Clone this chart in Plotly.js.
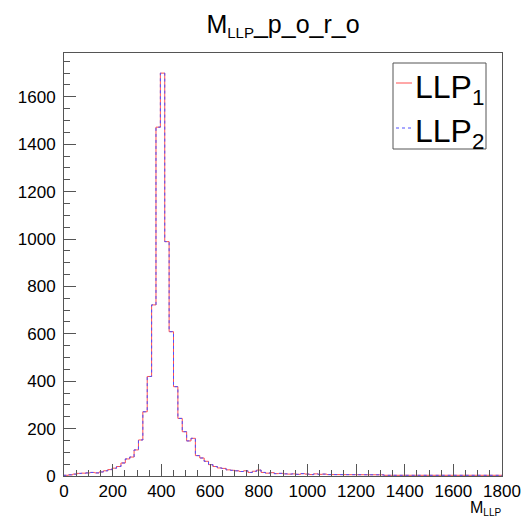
<!DOCTYPE html>
<html>
<head>
<meta charset="utf-8">
<script src="https://cdn.plot.ly/plotly-3.0.1.min.js"></script>
<style>html,body{margin:0;padding:0;background:#fff;}#chart{width:530px;height:518px;}</style>
</head>
<body>
<div id="chart"></div>
<script>
// Histogram binning (100 bins of width 18 over 0..1800)
const binLow = 0;
const binWidth = 18;

// Bin contents
const llp1Counts = [
  3, 5, 8, 11, 12, 13, 15, 13, 17, 22,
  27, 33, 40, 55, 72, 80, 110, 152, 271, 420,
  722, 1472, 1700, 989, 609, 377, 243, 187, 148, 159,
  86, 76, 62, 48, 40, 34, 32, 26, 24, 22,
  19, 22, 15, 20, 25, 15, 12, 14, 10, 11,
  9, 8, 9, 7, 10, 8, 6, 9, 7, 8,
  6, 6, 5, 7, 5, 6, 4, 6, 5, 4,
  5, 4, 5, 3, 4, 5, 3, 4, 3, 4,
  3, 3, 4, 2, 3, 3, 2, 4, 2, 3,
  3, 2, 3, 2, 3, 4, 2, 3, 2, 3
];
const llp2Counts = [
  3, 5, 8, 11, 12, 13, 15, 13, 17, 22,
  27, 33, 40, 55, 72, 80, 110, 152, 271, 420,
  722, 1472, 1700, 989, 609, 377, 243, 187, 148, 159,
  86, 76, 62, 48, 40, 34, 32, 26, 24, 22,
  19, 22, 15, 20, 25, 15, 12, 14, 10, 11,
  9, 8, 9, 7, 10, 8, 6, 9, 7, 8,
  6, 6, 5, 7, 5, 6, 4, 6, 5, 4,
  5, 4, 5, 3, 4, 5, 3, 4, 3, 4,
  3, 3, 4, 2, 3, 3, 2, 4, 2, 3,
  3, 2, 3, 2, 3, 4, 2, 3, 2, 3
];
const seriesNames = ['LLP<sub>1</sub>', 'LLP<sub>2</sub>'];
const seriesColors = ['#ff5050', '#5050ff'];
const chartTitle = 'M<sub><span style="font-size:15px">LLP</span></sub>_p_o_r_o';
const xTitle = 'M<sub><span style="font-size:10px">LLP</span></sub>';

// Step outline from bin edges
function stepXY(counts) {
  const xs = [binLow], ys = [0];
  for (let i = 0; i < counts.length; i++) {
    const lo = binLow + i * binWidth;
    xs.push(lo, lo + binWidth);
    ys.push(counts[i], counts[i]);
  }
  xs.push(binLow + counts.length * binWidth);
  ys.push(0);
  return {x: xs, y: ys};
}

const s1 = stepXY(llp1Counts);
const s2 = stepXY(llp2Counts);
const FONT = 'Liberation Sans, Arial, Helvetica, sans-serif';

const traces = [
  {x: s1.x, y: s1.y, type: 'scatter', mode: 'lines', name: seriesNames[0], showlegend: false,
   line: {color: seriesColors[0], width: 1}},
  {x: s2.x, y: s2.y, type: 'scatter', mode: 'lines', name: seriesNames[1], showlegend: false,
   line: {color: seriesColors[1], width: 1, dash: 'dot'}}
];

const axisCommon = {
  showline: true, linecolor: '#555', linewidth: 1, mirror: true,
  showgrid: false, zeroline: false,
  ticks: 'inside', ticklen: 12, tickcolor: '#555', tickwidth: 1,
  tickfont: {family: FONT, size: 17, color: '#000'},
  minor: {ticks: 'inside', ticklen: 6, tickcolor: '#555', tickwidth: 1, dtick: 50, showgrid: false}
};

// pixel -> paper helpers (plot area 64..502 x 53..476)
const px = v => (v - 64) / 438;
const py = v => (476 - v) / 423;

const layout = {
  width: 530, height: 518,
  margin: {l: 64, r: 28, t: 53, b: 42, pad: 0},
  paper_bgcolor: '#fff', plot_bgcolor: '#fff',
  title: {text: chartTitle, font: {family: FONT, size: 25, color: '#000'},
          x: 0.5, xref: 'paper', xanchor: 'center', y: 0.97, yanchor: 'top'},
  xaxis: Object.assign({}, axisCommon, {range: [0, 1800], tick0: 0, dtick: 200, ticklabelstandoff: 0}),
  yaxis: Object.assign({}, axisCommon, {range: [0, 1785], tick0: 0, dtick: 200, ticklabelstandoff: 4}),
  showlegend: false,
  shapes: [
    {type: 'rect', xref: 'paper', yref: 'paper', x0: px(393), x1: px(486), y0: py(149), y1: py(63),
     line: {color: '#555', width: 1}, fillcolor: '#fff', layer: 'above'},
    {type: 'line', xref: 'paper', yref: 'paper', x0: px(396), x1: px(412), y0: py(83), y1: py(83),
     line: {color: seriesColors[0], width: 1}, layer: 'above'},
    {type: 'line', xref: 'paper', yref: 'paper', x0: px(396), x1: px(412), y0: py(128), y1: py(128),
     line: {color: seriesColors[1], width: 1, dash: 'dot'}, layer: 'above'}
  ],
  annotations: [
    {text: seriesNames[0], xref: 'paper', yref: 'paper', x: px(413), y: py(89), xanchor: 'left', yanchor: 'middle',
     showarrow: false, font: {family: FONT, size: 32, color: '#000'}},
    {text: seriesNames[1], xref: 'paper', yref: 'paper', x: px(413), y: py(133), xanchor: 'left', yanchor: 'middle',
     showarrow: false, font: {family: FONT, size: 32, color: '#000'}},
    {text: xTitle, xref: 'paper', yref: 'paper', x: 1, y: py(519), xanchor: 'right', yanchor: 'bottom',
     showarrow: false, borderpad: 0, font: {family: FONT, size: 16, color: '#000'}}
  ]
};

Plotly.newPlot('chart', traces, layout, {displayModeBar: false, staticPlot: true});
</script>
</body>
</html>
